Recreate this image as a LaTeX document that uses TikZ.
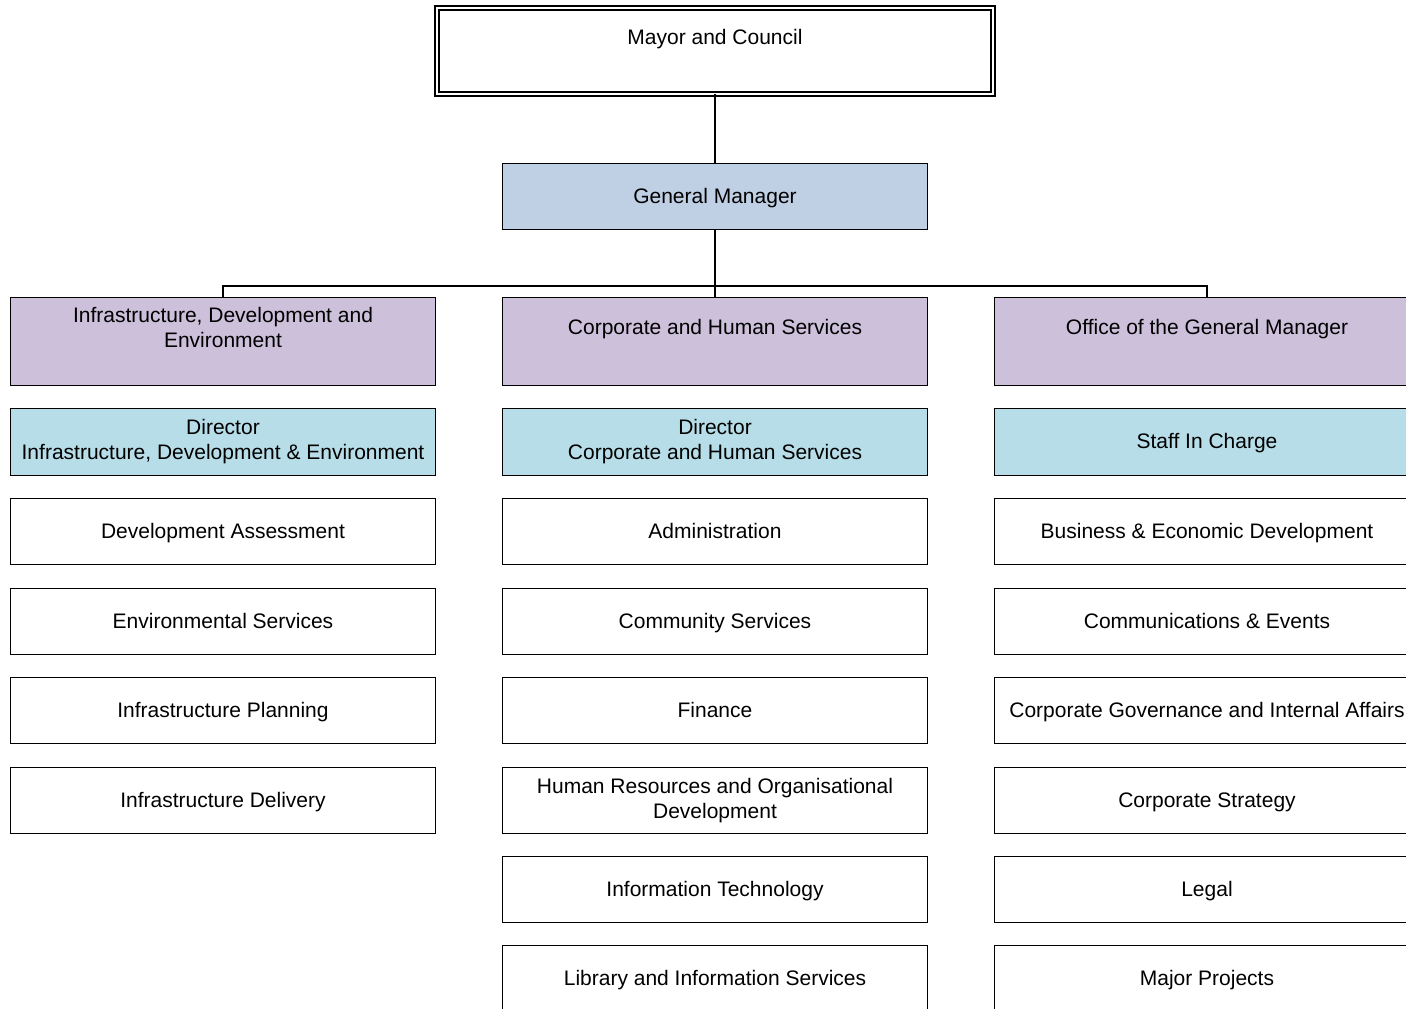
\documentclass[tikz,border=0pt]{standalone}
\usepackage{fontspec}
\setmainfont{Liberation Sans}
\definecolor{gmblue}{HTML}{C0D0E4}
\definecolor{divpurple}{HTML}{CCC0DA}
\definecolor{dircyan}{HTML}{B7DEE8}
\newcommand\boxstrut{\rule[-3.5pt]{0pt}{21pt}}
\begin{document}
\begin{tikzpicture}[x=1pt,y=-1pt,
  box/.style={draw=black, line width=1.5pt, minimum width=425pt, minimum height=66pt,
    align=center, inner sep=0pt, outer sep=0pt, font=\fontsize{21}{25}\selectfont,
    execute at begin node=\boxstrut, execute at end node=\boxstrut},
  divbox/.style={box, fill=divpurple, minimum height=88pt},
  dirbox/.style={box, fill=dircyan, minimum height=67pt},
  gmbox/.style={box, fill=gmblue, minimum height=66pt},
  topbox/.style={box, double, line width=1.3pt, double distance=2.6pt, minimum width=556pt, minimum height=86pt},
  conn/.style={draw=black, line width=1.5pt}]
\useasboundingbox (0,0) rectangle (1406,1009);
\clip (0,0) rectangle (1406,1009);
\fill[white] (0,0) rectangle (1406,1009);

\node[topbox] (mayor) at (715,51) {Mayor and Council\\~};
\node[gmbox] (gm) at (715,196.5) {General Manager};

\node[divbox] (d1) at (223,341.5) {Infrastructure, Development and\\Environment\\~};
\node[divbox] (d2) at (715,341.5) {Corporate and Human Services\\~};
\node[divbox] (d3) at (1207,341.5) {Office of the General Manager\\~};

\node[dirbox] (r1) at (223,442) {Director\\Infrastructure, Development \& Environment};
\node[dirbox] (r2) at (715,442) {Director\\Corporate and Human Services};
\node[dirbox] (r3) at (1207,442) {Staff In Charge};

\node[box] (a1) at (223,531.5) {Development Assessment};
\node[box] (a2) at (223,621.5) {Environmental Services};
\node[box] (a3) at (223,710.5) {Infrastructure Planning};
\node[box] (a4) at (223,800.5) {Infrastructure Delivery};

\node[box] (b1) at (715,531.5) {Administration};
\node[box] (b2) at (715,621.5) {Community Services};
\node[box] (b3) at (715,710.5) {Finance};
\node[box] (b4) at (715,800.5) {Human Resources and Organisational\\Development};
\node[box] (b5) at (715,889.5) {Information Technology};
\node[box] (b6) at (715,978.5) {Library and Information Services};

\node[box] (c1) at (1207,531.5) {Business \& Economic Development};
\node[box] (c2) at (1207,621.5) {Communications \& Events};
\node[box] (c3) at (1207,710.5) {Corporate Governance and Internal Affairs};
\node[box] (c4) at (1207,800.5) {Corporate Strategy};
\node[box] (c5) at (1207,889.5) {Legal};
\node[box] (c6) at (1207,978.5) {Major Projects};

\coordinate (bus) at (715,286);
\draw[conn] (mayor.south) -- (gm.north);
\draw[conn] (gm.south) -- (d2.north);
\draw[conn] (d1.north) |- (bus) -| (d3.north);
\end{tikzpicture}
\end{document}
